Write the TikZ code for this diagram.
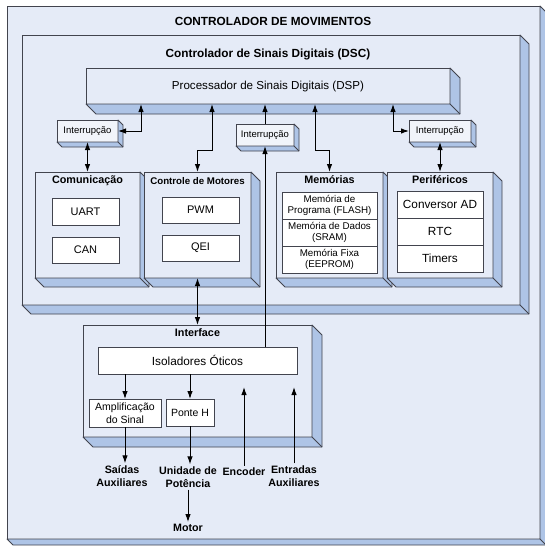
\documentclass[tikz,border=0pt]{standalone}
\usepackage{fontspec}
\setmainfont{Liberation Sans}
\usetikzlibrary{arrows.meta}

\definecolor{face}{RGB}{229,235,247}
\definecolor{sidefill}{RGB}{174,196,230}
\definecolor{edge}{RGB}{66,68,78}
\definecolor{intfill}{RGB}{241,244,250}

\newcommand{\fsz}[2]{\fontsize{#1}{#2}\selectfont}
% 3d side of a box: #1 node, #2 depth
\newcommand{\bevel}[2]{%
  \filldraw[fill=sidefill, draw=edge, line width=0.8pt, line join=round]
    (#1.south west) -- ([shift={(#2,#2)}]#1.south west)
    -- ([shift={(#2,#2)}]#1.south east) -- ([shift={(#2,#2)}]#1.north east)
    -- (#1.north east) -- (#1.south east) -- cycle;
  \draw[edge, line width=0.8pt] (#1.south east) -- ([shift={(#2,#2)}]#1.south east);}

\tikzset{
  panel/.style={draw=edge, fill=face, line width=0.8pt, inner sep=0pt, outer sep=0pt, anchor=north west},
  cell/.style={draw=edge, fill=white, line width=0.8pt, inner sep=0pt, outer sep=0pt, anchor=north west, align=center},
  intbox/.style={panel, fill=intfill, font=\fsz{9.5}{11}},
  bigtitle/.style={font=\bfseries\fsz{11.8}{14}, inner sep=0pt},
  subtitle/.style={font=\bfseries\fsz{10.8}{13}, inner sep=0pt},
  outlabel/.style={font=\bfseries\fsz{10.7}{13}, align=center, inner sep=2pt},
  link/.style={line width=1pt, black}
}

\begin{document}
\begin{tikzpicture}[x=1pt, y=-1pt, >={Latex[length=8pt,width=5.5pt]}]
  \fill[white] (0,0) rectangle (544,546);
  \useasboundingbox (0,0) rectangle (544,546);

  % outer box
  \node[panel, minimum width=533, minimum height=533] (mov) at (7,6) {};
  \bevel{mov}{6}
  \node[bigtitle] (movt) at (273,21) {CONTROLADOR DE MOVIMENTOS};

  % DSC
  \node[panel, minimum width=498, minimum height=270] (dsc) at (22,35) {};
  \bevel{dsc}{9}
  \node[bigtitle] (dsct) at (268,54) {Controlador de Sinais Digitais (DSC)};
  \node[panel, minimum width=364, minimum height=36, font=\fsz{11.6}{14}] (dsp) at (86,68) {Processador de Sinais Digitais (DSP)};
  \bevel{dsp}{10}

  % interrupcoes
  \node[intbox, minimum width=61, minimum height=22] (intL) at (57,120) {Interrupção};
  \bevel{intL}{5}
  \node[intbox, minimum width=58, minimum height=22] (intM) at (236,124) {Interrupção};
  \bevel{intM}{5}
  \node[intbox, minimum width=62, minimum height=22] (intR) at (409,120) {Interrupção};
  \bevel{intR}{5}

  % modulos
  \node[panel, minimum width=105, minimum height=106] (com) at (35,172) {};
  \bevel{com}{9}
  \node[subtitle] (comt) at ([shift={(0,9)}]com.north) {Comunicação};
  \node[cell, minimum width=67, minimum height=27, font=\fsz{11}{13}] (uart) at (52,198) {UART};
  \node[cell, minimum width=67, minimum height=26, font=\fsz{11}{13}] (can) at (52,237) {CAN};

  \node[panel, minimum width=107, minimum height=106] (ctl) at (144,172) {};
  \bevel{ctl}{9}
  \node[subtitle, font=\bfseries\fsz{9.7}{12}] (ctlt) at ([shift={(0,9)}]ctl.north) {Controle de Motores};
  \node[cell, minimum width=77, minimum height=26, font=\fsz{11}{13}] (pwm) at (162,197) {PWM};
  \node[cell, minimum width=77, minimum height=26, font=\fsz{11}{13}] (qei) at (162,235) {QEI};

  \node[panel, minimum width=107, minimum height=106] (mem) at (276,172) {};
  \bevel{mem}{9}
  \node[subtitle] (memt) at ([shift={(0,8)}]mem.north) {Memórias};
  \node[cell, minimum width=95, minimum height=27, font=\fsz{9.8}{11.5}] (memA) at (282,192) {Memória de\\Programa (FLASH)};
  \node[cell, minimum width=95, minimum height=27, font=\fsz{9.8}{11.5}] (memB) at (282,219) {Memória de Dados\\(SRAM)};
  \node[cell, minimum width=95, minimum height=27, font=\fsz{9.8}{11.5}] (memC) at (282,246) {Memória Fixa\\(EEPROM)};

  \node[panel, minimum width=106, minimum height=106] (per) at (387,172) {};
  \bevel{per}{9}
  \node[subtitle] (pert) at ([shift={(0,8)}]per.north) {Periféricos};
  \node[cell, minimum width=86, minimum height=27, font=\fsz{11.8}{14}] (perA) at (397,191) {Conversor AD};
  \node[cell, minimum width=86, minimum height=27, font=\fsz{11.8}{14}] (perB) at (397,218) {RTC};
  \node[cell, minimum width=86, minimum height=27, font=\fsz{11.8}{14}] (perC) at (397,245) {Timers};

  % interface
  \node[panel, minimum width=229, minimum height=112] (ifc) at (83,325) {};
  \bevel{ifc}{10}
  \node[subtitle] (ifct) at (197.5,333) {Interface};
  \node[cell, minimum width=199, minimum height=27, font=\fsz{11.8}{14}] (iso) at (98,347) {Isoladores Óticos};
  \node[cell, minimum width=72, minimum height=28, font=\fsz{10.5}{12.5}] (amp) at (89,399) {Amplificação\\do Sinal};
  \node[cell, minimum width=48, minimum height=27, font=\fsz{10.5}{12.5}] (ponte) at (166,399) {Ponte H};

  % sinais externos
  \node[outlabel] (said) at (122,476) {Saídas\\Auxiliares};
  \node[outlabel] (unid) at (188,477) {Unidade de\\Potência};
  \node[outlabel] (enc) at (244,472) {Encoder};
  \node[outlabel] (ent) at (294,476) {Entradas\\Auxiliares};
  \node[outlabel] (motor) at (188,528) {Motor};

  % pontos no DSP
  \coordinate (pL) at (141,104);
  \coordinate (pC) at (212,104);
  \coordinate (pM) at (315,104);
  \coordinate (pR) at (393,104);
  \coordinate (encin) at (244,387);
  \coordinate (entin) at (294,387);

  % ligacoes
  \draw[link,<->] (intL.east) -| (pL);
  \draw[link,<->] (pC) -- ++(0,46) -| (ctl.north);
  \draw[link,->] (intM.north) -- (intM.north |- dsp.south);
  \draw[link,<->] (pM) -- ++(0,46) -| (mem.north);
  \draw[link,<->] (intR.west) -| (pR);
  \draw[link,<->] (intL.south) -- (com.north);
  \draw[link,<->] (intR.south) -- (per.north);
  \draw[link,->] (intM.south |- iso.north) -- (intM.south);
  \draw[link,<->] (ctl.south) -- (ctl.south |- ifc.north);
  \draw[link,->] (amp.north |- iso.south) -- (amp.north);
  \draw[link,->] (ponte.north |- iso.south) -- (ponte.north);
  \draw[link,->] (amp.south) -- (amp.south |- said.north);
  \draw[link,->] (ponte.south) -- (ponte.south |- unid.north);
  \draw[link,->] (unid) -- (motor);
  \draw[link,->] (enc.north) -- (encin);
  \draw[link,->] (ent.north) -- (entin);
\end{tikzpicture}
\end{document}
